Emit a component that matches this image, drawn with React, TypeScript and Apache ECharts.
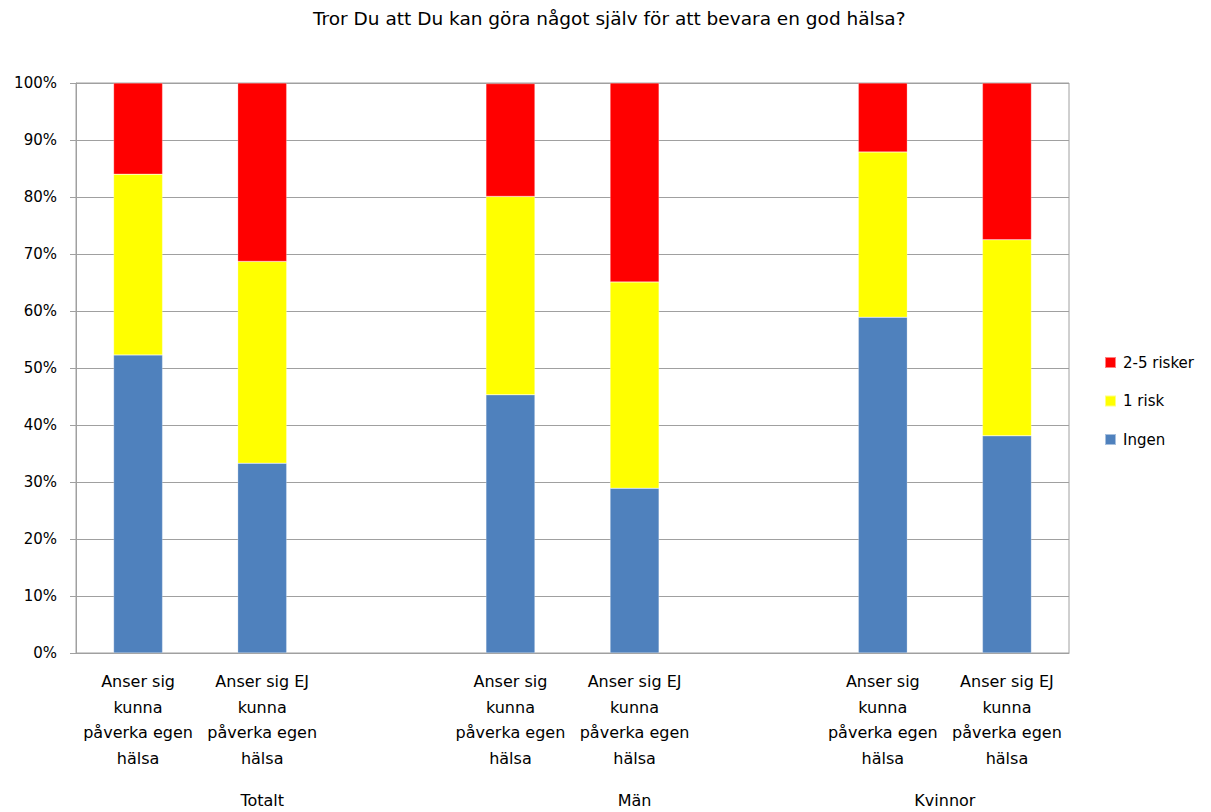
import React, { useEffect, useRef } from "react";
import * as echarts from "echarts";

const title = "Tror Du att Du kan göra något själv för att bevara en god hälsa?";
const categories = [
  "Anser sig\nkunna\npåverka egen\nhälsa",
  "Anser sig EJ\nkunna\npåverka egen\nhälsa",
  "",
  "Anser sig\nkunna\npåverka egen\nhälsa",
  "Anser sig EJ\nkunna\npåverka egen\nhälsa",
  "",
  "Anser sig\nkunna\npåverka egen\nhälsa",
  "Anser sig EJ\nkunna\npåverka egen\nhälsa",
];
const groupNames = ["Totalt", "Män", "Kvinnor"];
const groupSlots: [number, number][] = [[0, 2], [3, 5], [6, 7]];

const ingen = [52.3, 33.3, null, 45.3, 28.9, null, 58.9, 38.1];
const enRisk = [31.7, 35.4, null, 34.8, 36.2, null, 29.0, 34.4];
const flerRisker = [16.0, 31.3, null, 19.8, 34.9, null, 12.1, 27.5];
const yTicks = [0, 10, 20, 30, 40, 50, 60, 70, 80, 90, 100];

const FONT = "'DejaVu Sans', 'Liberation Sans', sans-serif";

export default function App() {
  const ref = useRef<HTMLDivElement>(null);
  useEffect(() => {
    if (!ref.current) return;
    const chart = echarts.init(ref.current, null, { renderer: "svg" });
    const centers = groupSlots.map(([a, b]) => (a + b + 1) / 2);
    const fmtGroup = (v: number) => {
      const i = centers.findIndex((c) => Math.abs(c - v) < 1e-6);
      return i >= 0 ? groupNames[i] : "";
    };
    const barStyle = (color: string) => ({
      color,
      borderColor: "rgba(255,255,255,0.5)",
      borderWidth: 0.5,
    });
    chart.setOption({
      animation: false,
      textStyle: { fontFamily: FONT },
      title: {
        text: title,
        left: 308,
        top: 4,
        textStyle: { fontFamily: FONT, fontSize: 18.5, fontWeight: "normal", color: "#000" },
      },
      legend: {
        orient: "vertical",
        left: 1099,
        top: 350,
        itemWidth: 11,
        itemHeight: 11,
        itemGap: 23.5,
        icon: "rect",
        data: ["2-5 risker", "1 risk", "Ingen"],
        textStyle: { fontFamily: FONT, fontSize: 15, color: "#000", padding: [0, 0, 0, 2] },
      },
      grid: {
        left: 76,
        right: 142,
        top: 83,
        bottom: 159,
        show: true,
        borderColor: "#A0A0A0",
        borderWidth: 1,
      },
      xAxis: [
        {
          type: "category",
          data: categories,
          axisTick: { show: false },
          axisLine: { lineStyle: { color: "#A0A0A0" } },
          axisLabel: {
            interval: 0,
            fontSize: 16,
            lineHeight: 25.5,
            margin: 16,
            color: "#000",
            fontFamily: FONT,
          },
        },
        {
          type: "value",
          position: "bottom",
          min: 0,
          max: categories.length,
          interval: 0.5,
          offset: 131,
          axisLine: { show: false },
          axisTick: { show: false },
          splitLine: { show: false },
          axisLabel: {
            formatter: fmtGroup,
            fontSize: 16,
            color: "#000",
            fontFamily: FONT,
            showMinLabel: true,
            showMaxLabel: true,
          },
        },
      ],
      yAxis: {
        type: "value",
        min: yTicks[0],
        max: yTicks[yTicks.length - 1],
        interval: yTicks[1] - yTicks[0],
        axisLine: { show: true, lineStyle: { color: "#A0A0A0" } },
        axisTick: { show: true, length: 6, lineStyle: { color: "#A0A0A0" } },
        splitLine: { lineStyle: { color: "#A0A0A0" } },
        axisLabel: {
          formatter: "{value}%",
          fontSize: 15,
          color: "#000",
          margin: 19,
          fontFamily: FONT,
        },
      },
      series: [
        {
          name: "Ingen",
          type: "bar",
          stack: "s",
          barWidth: "39.5%",
          data: ingen,
          itemStyle: barStyle("#4F81BD"),
        },
        {
          name: "1 risk",
          type: "bar",
          stack: "s",
          data: enRisk,
          itemStyle: barStyle("#FFFF00"),
        },
        {
          name: "2-5 risker",
          type: "bar",
          stack: "s",
          data: flerRisker,
          itemStyle: barStyle("#FF0000"),
        },
      ],
    });
    return () => chart.dispose();
  }, []);
  return (
    <div
      ref={ref}
      style={{ position: "fixed", left: 0, top: 0, width: 1211, height: 812, background: "#fff" }}
    />
  );
}
